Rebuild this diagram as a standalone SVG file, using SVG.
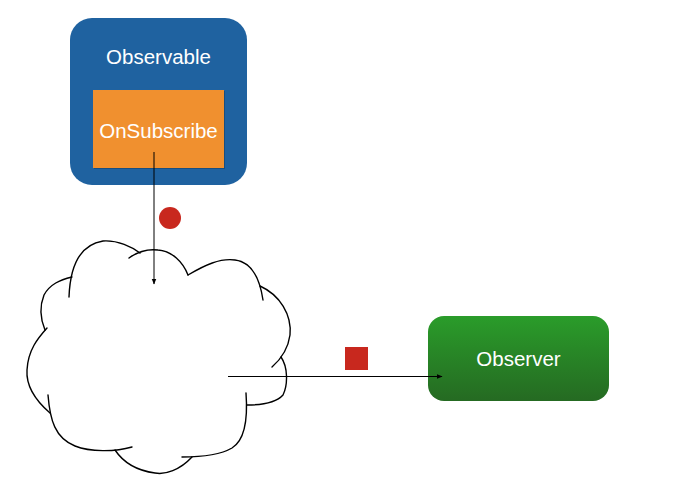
<svg xmlns="http://www.w3.org/2000/svg" width="673" height="484" viewBox="0 0 673 484">
<style>
.lbl{font-family:"Liberation Sans","Helvetica Neue",Arial,sans-serif;font-size:20.5px;fill:#ffffff;text-anchor:middle}
.cloud{fill:none;stroke:#000;stroke-width:1.4;stroke-linecap:round}
.conn{fill:none;stroke:#000;stroke-width:1}
</style>
<defs>
<marker id="arr" viewBox="0 0 10 10" refX="9" refY="5" markerWidth="6" markerHeight="6" orient="auto" markerUnits="userSpaceOnUse">
<path d="M0,1 L10,5 L0,9 z" fill="#000"/>
</marker>
<linearGradient id="grn" x1="0" y1="0" x2="0" y2="1">
<stop offset="0" stop-color="#2a9c2a"/>
<stop offset="1" stop-color="#256a22"/>
</linearGradient>
</defs>
<rect width="673" height="484" fill="#fff"/>
<g id="observable">
<rect x="70" y="18" width="177" height="167" rx="22" fill="#1f62a0"/>
<text class="lbl" x="158.5" y="64">Observable</text>
</g>
<g id="onsubscribe">
<rect x="94" y="91" width="131" height="78" fill="#000" opacity="0.2"/>
<rect x="93" y="90" width="131" height="78" fill="#f0902f"/>
<text class="lbl" x="158.5" y="138">OnSubscribe</text>
</g>
<g id="cloud">
<path class="cloud" d="M69,297 C70,270 78,245 103,241 C118,240 132,247 140,253"/>
<path class="cloud" d="M129,258 C140,250 150,249 158,250 C172,251 183,262 188,275"/>
<path class="cloud" d="M188,275 C205,265 220,258 235,260 C252,262 260,280 263,300"/>
<path class="cloud" d="M260,286 C280,295 292,315 290,335 C288,350 280,360 272,367"/>
<path class="cloud" d="M281,357 C288,367 288,385 283,395 C275,404 260,405 247,405"/>
<path class="cloud" d="M246,393 C248,420 245,440 232,448 C220,455 200,457 182,457"/>
<path class="cloud" d="M192,457 C180,470 165,475 155,473 C140,471 125,465 115,450"/>
<path class="cloud" d="M132,447 C115,452 90,452 75,446 C55,438 50,420 48,395"/>
<path class="cloud" d="M50,413 C35,400 26,385 27,370 C28,350 38,338 47,328"/>
<path class="cloud" d="M45,330 C40,318 40,305 44,295 C50,284 60,280 72,277"/>
</g>
<g id="observer">
<rect x="428" y="316" width="181" height="85" rx="16" fill="url(#grn)"/>
<text class="lbl" x="518.5" y="366">Observer</text>
</g>
<g id="event-circle">
<circle cx="170" cy="218" r="11" fill="#c8281e"/>
</g>
<g id="event-square">
<rect x="345" y="347" width="23" height="23" fill="#c8281e"/>
</g>
<g id="connectors">
<line class="conn" x1="154" y1="152" x2="154" y2="284" marker-end="url(#arr)"/>
<line class="conn" x1="228" y1="376.5" x2="442" y2="376.5" marker-end="url(#arr)"/>
</g>
</svg>
